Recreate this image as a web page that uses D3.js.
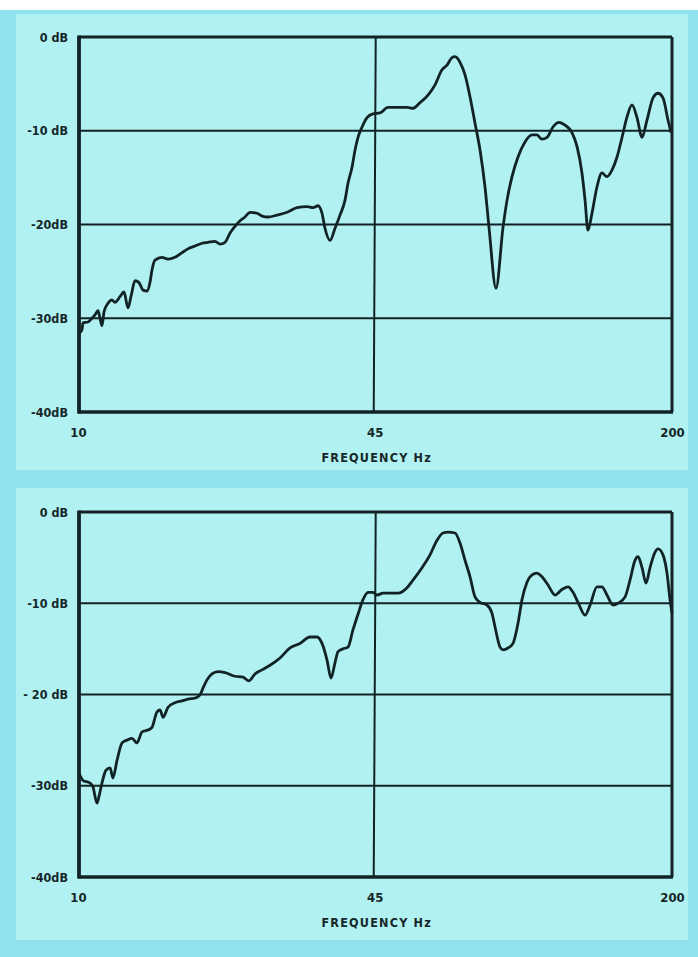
<!DOCTYPE html>
<html>
<head>
<meta charset="utf-8">
<script src="https://cdn.jsdelivr.net/npm/d3@7"></script>
<style>
  html, body { margin: 0; padding: 0; background: #ffffff; }
  svg { display: block; }
  .lbl { font-family: "DejaVu Sans Condensed", "Liberation Sans Narrow", sans-serif; font-weight: bold; fill: #16272a; }
</style>
</head>
<body>
<svg id="chart" width="698" height="957"></svg>
<script>
// Frequency axis and level axis
const freqTicks = [10, 45, 200];
const freqLabels = ["10", "45", "200"];
const dbTicks = [0, -10, -20, -30, -40];
const dbGrid = [-10, -20, -30];
const topDbLabels = ["0 dB", "-10 dB", "-20dB", "-30dB", "-40dB"];
const bottomDbLabels = ["0 dB", "-10 dB", "- 20 dB", "-30dB", "-40dB"];
const axisTitle = "FREQUENCY Hz";

// Upper response: frequency (Hz) and level (dB)
const topFreq = [10.0, 10.15, 10.2, 10.47, 10.68, 10.84, 11.01, 11.12, 11.23, 11.35, 11.58, 11.81, 11.99, 12.3, 12.55, 12.81, 13.0, 13.27, 13.54, 13.82, 14.1, 14.31, 14.46, 14.68, 15.21, 15.68, 16.24, 16.83, 17.34, 17.97, 18.62, 19.19, 19.88, 20.39, 20.91, 21.45, 21.99, 22.56, 23.13, 23.73, 24.58, 25.21, 25.98, 27.19, 28.6, 30.08, 31.64, 32.62, 33.45, 34.13, 34.65, 35.54, 36.45, 37.38, 38.34, 38.92, 39.72, 40.33, 40.94, 41.78, 42.85, 44.16, 45.76, 47.64, 49.85, 52.44, 54.06, 56.0, 58.31, 60.41, 62.58, 64.18, 65.83, 66.83, 68.54, 70.3, 72.1, 73.94, 75.83, 77.76, 79.35, 82.21, 85.17, 86.92, 89.13, 91.87, 95.18, 98.61, 101.1, 103.7, 106.4, 109.6, 113.0, 116.5, 120.7, 123.8, 126.9, 128.9, 130.8, 133.5, 136.9, 140.4, 144.0, 147.7, 151.5, 155.4, 159.4, 163.4, 167.6, 171.9, 176.3, 181.7, 186.4, 191.1, 196.0, 199.0];
const topDb = [-31.6, -31.25, -30.5, -30.4, -30.0, -29.65, -29.2, -30.0, -30.8, -29.3, -28.4, -28.05, -28.3, -27.7, -27.2, -28.9, -27.7, -26.0, -26.2, -27.0, -27.1, -26.2, -24.85, -23.8, -23.5, -23.7, -23.5, -23.0, -22.6, -22.3, -22.0, -21.9, -21.8, -22.1, -21.9, -20.9, -20.2, -19.6, -19.2, -18.7, -18.8, -19.1, -19.2, -19.0, -18.7, -18.2, -18.1, -18.2, -18.0, -18.8, -20.4, -21.7, -20.4, -19.0, -17.4, -15.6, -13.9, -12.05, -10.7, -9.6, -8.6, -8.2, -8.1, -7.5, -7.5, -7.5, -7.6, -7.0, -6.2, -5.1, -3.5, -3.0, -2.2, -2.1, -2.7, -4.05, -6.4, -9.2, -12.05, -16.0, -20.3, -26.8, -20.3, -17.4, -14.9, -12.8, -11.2, -10.45, -10.45, -10.9, -10.7, -9.6, -9.1, -9.4, -10.2, -11.7, -14.5, -17.4, -20.6, -18.8, -16.0, -14.5, -14.9, -14.2, -12.8, -10.7, -8.5, -7.25, -8.6, -10.7, -8.85, -6.5, -6.0, -6.5, -8.85, -10.2];

// Lower response: frequency (Hz) and level (dB)
const bottomFreq = [10.0, 10.2, 10.57, 10.73, 10.95, 11.06, 11.23, 11.46, 11.7, 11.87, 12.12, 12.43, 12.74, 13.07, 13.4, 13.75, 14.17, 14.46, 14.83, 15.06, 15.29, 15.68, 16.24, 16.83, 17.34, 17.97, 18.43, 18.71, 19.09, 19.58, 20.18, 20.91, 21.99, 22.9, 23.6, 24.33, 25.21, 26.25, 27.61, 29.04, 30.54, 32.12, 33.28, 34.13, 35.0, 35.72, 36.45, 37.01, 37.95, 38.92, 39.92, 40.94, 41.99, 43.06, 44.16, 45.07, 46.45, 48.13, 50.11, 52.44, 54.06, 56.57, 58.9, 61.02, 62.9, 64.51, 66.83, 68.54, 70.3, 72.1, 73.94, 75.83, 78.56, 80.57, 81.8, 83.89, 85.17, 87.34, 89.58, 91.87, 93.75, 96.15, 98.61, 101.1, 103.7, 106.9, 110.8, 114.7, 118.3, 121.3, 124.4, 128.9, 132.2, 136.9, 140.4, 144.0, 148.5, 152.3, 157.8, 161.8, 165.9, 168.5, 171.9, 175.4, 179.0, 183.6, 186.4, 191.1, 195.0, 198.0, 200.0];
const bottomDb = [-28.6, -29.4, -29.7, -30.1, -31.9, -31.2, -29.7, -28.3, -28.05, -29.15, -27.2, -25.3, -25.0, -24.8, -25.3, -24.1, -23.9, -23.6, -21.9, -21.7, -22.5, -21.4, -20.9, -20.7, -20.5, -20.4, -20.05, -19.3, -18.4, -17.75, -17.5, -17.6, -18.0, -18.1, -18.5, -17.75, -17.3, -16.8, -16.0, -14.9, -14.4, -13.7, -13.7, -14.4, -16.2, -18.2, -16.5, -15.3, -15.0, -14.8, -12.9, -11.2, -9.6, -8.8, -8.8, -9.1, -8.9, -8.9, -8.9, -8.3, -7.45, -6.1, -4.7, -3.1, -2.3, -2.2, -2.3, -3.4, -5.3, -7.1, -9.3, -9.9, -10.2, -11.1, -12.6, -14.8, -15.1, -14.9, -14.4, -12.2, -9.6, -7.7, -6.9, -6.7, -7.1, -8.0, -9.1, -8.5, -8.2, -8.8, -9.9, -11.3, -10.2, -8.2, -8.2, -9.1, -10.2, -10.0, -9.3, -7.45, -5.3, -4.9, -6.1, -7.8, -6.1, -4.4, -4.05, -4.7, -6.7, -9.6, -11.1];

const ink = "#122326";
const svg = d3.select("#chart");

// Backdrop: saturated cyan frame with two lighter cards
svg.append("rect").attr("x", 0).attr("y", 10).attr("width", 698).attr("height", 947).attr("fill", "#8fe2ee");
svg.append("rect").attr("x", 16).attr("y", 14).attr("width", 672).attr("height", 456).attr("fill", "#b2f1f1");
svg.append("rect").attr("x", 16).attr("y", 488).attr("width", 672).attr("height", 452).attr("fill", "#b2f1f1");

function drawPanel(cfg) {
  const g = svg.append("g");
  const x = d3.scaleLog().domain([10, 200]).range([79, 672]);
  const y = d3.scaleLinear().domain([-40, 0]).range([cfg.bottom, cfg.top]);

  // horizontal grid
  g.selectAll(".grid").data(dbGrid).join("line")
    .attr("x1", x(10)).attr("x2", x(200))
    .attr("y1", d => y(d)).attr("y2", d => y(d))
    .attr("stroke", ink).attr("stroke-width", 2);

  // vertical line at 45 Hz
  g.append("line")
    .attr("x1", x(45) - 1).attr("x2", x(45) - 3)
    .attr("y1", y(0)).attr("y2", y(-40))
    .attr("stroke", ink).attr("stroke-width", 2);

  // response curve
  const pts = cfg.freq.map((f, i) => [f, cfg.db[i]]);
  g.append("path")
    .datum(pts)
    .attr("fill", "none")
    .attr("stroke", ink)
    .attr("stroke-width", 2.8)
    .attr("stroke-linejoin", "round")
    .attr("d", d3.line().x(d => x(d[0])).y(d => y(d[1])).curve(d3.curveMonotoneX));

  // frame
  g.append("line").attr("x1", x(10)).attr("x2", x(200)).attr("y1", y(0)).attr("y2", y(0))
    .attr("stroke", ink).attr("stroke-width", 3.2);
  g.append("line").attr("x1", x(200)).attr("x2", x(200)).attr("y1", y(0)).attr("y2", y(-40))
    .attr("stroke", ink).attr("stroke-width", 3);
  g.append("line").attr("x1", x(10) - 1).attr("x2", x(200) + 1).attr("y1", y(-40)).attr("y2", y(-40))
    .attr("stroke", ink).attr("stroke-width", 3.6);
  g.append("line").attr("x1", x(10)).attr("x2", x(10)).attr("y1", y(0) - 1.5).attr("y2", y(-40) + 1.5)
    .attr("stroke", ink).attr("stroke-width", 3.8);

  // level labels
  const yAxis = d3.axisLeft(y).tickValues(dbTicks)
    .tickFormat((d, i) => cfg.labels[i]).tickSize(0).tickPadding(11);
  const ya = g.append("g").attr("transform", `translate(${x(10)},0)`).call(yAxis);
  ya.select(".domain").remove();
  ya.selectAll("text").attr("class", "lbl").attr("font-size", 12.5).attr("fill", ink)
    .attr("font-family", null);

  // frequency labels
  const xAxis = d3.axisBottom(x).tickValues(freqTicks)
    .tickFormat((d, i) => freqLabels[i]).tickSize(0).tickPadding(16);
  const xa = g.append("g").attr("transform", `translate(0,${y(-40)})`).call(xAxis);
  xa.select(".domain").remove();
  xa.selectAll("text").attr("class", "lbl").attr("font-size", 13).attr("fill", ink)
    .attr("font-family", null);
  xa.selectAll(".tick").filter(d => d === 45).select("text").attr("dx", -2);
  xa.selectAll(".tick").filter(d => d === 10).select("text").attr("dx", -1);

  g.append("text").attr("class", "lbl")
    .attr("x", x(45)).attr("y", y(-40) + 50)
    .attr("text-anchor", "middle").attr("font-size", 12.5)
    .attr("letter-spacing", 1.2)
    .text(axisTitle);
}

drawPanel({ top: 37, bottom: 412, freq: topFreq, db: topDb, labels: topDbLabels });
drawPanel({ top: 512, bottom: 877, freq: bottomFreq, db: bottomDb, labels: bottomDbLabels });
</script>
</body>
</html>
